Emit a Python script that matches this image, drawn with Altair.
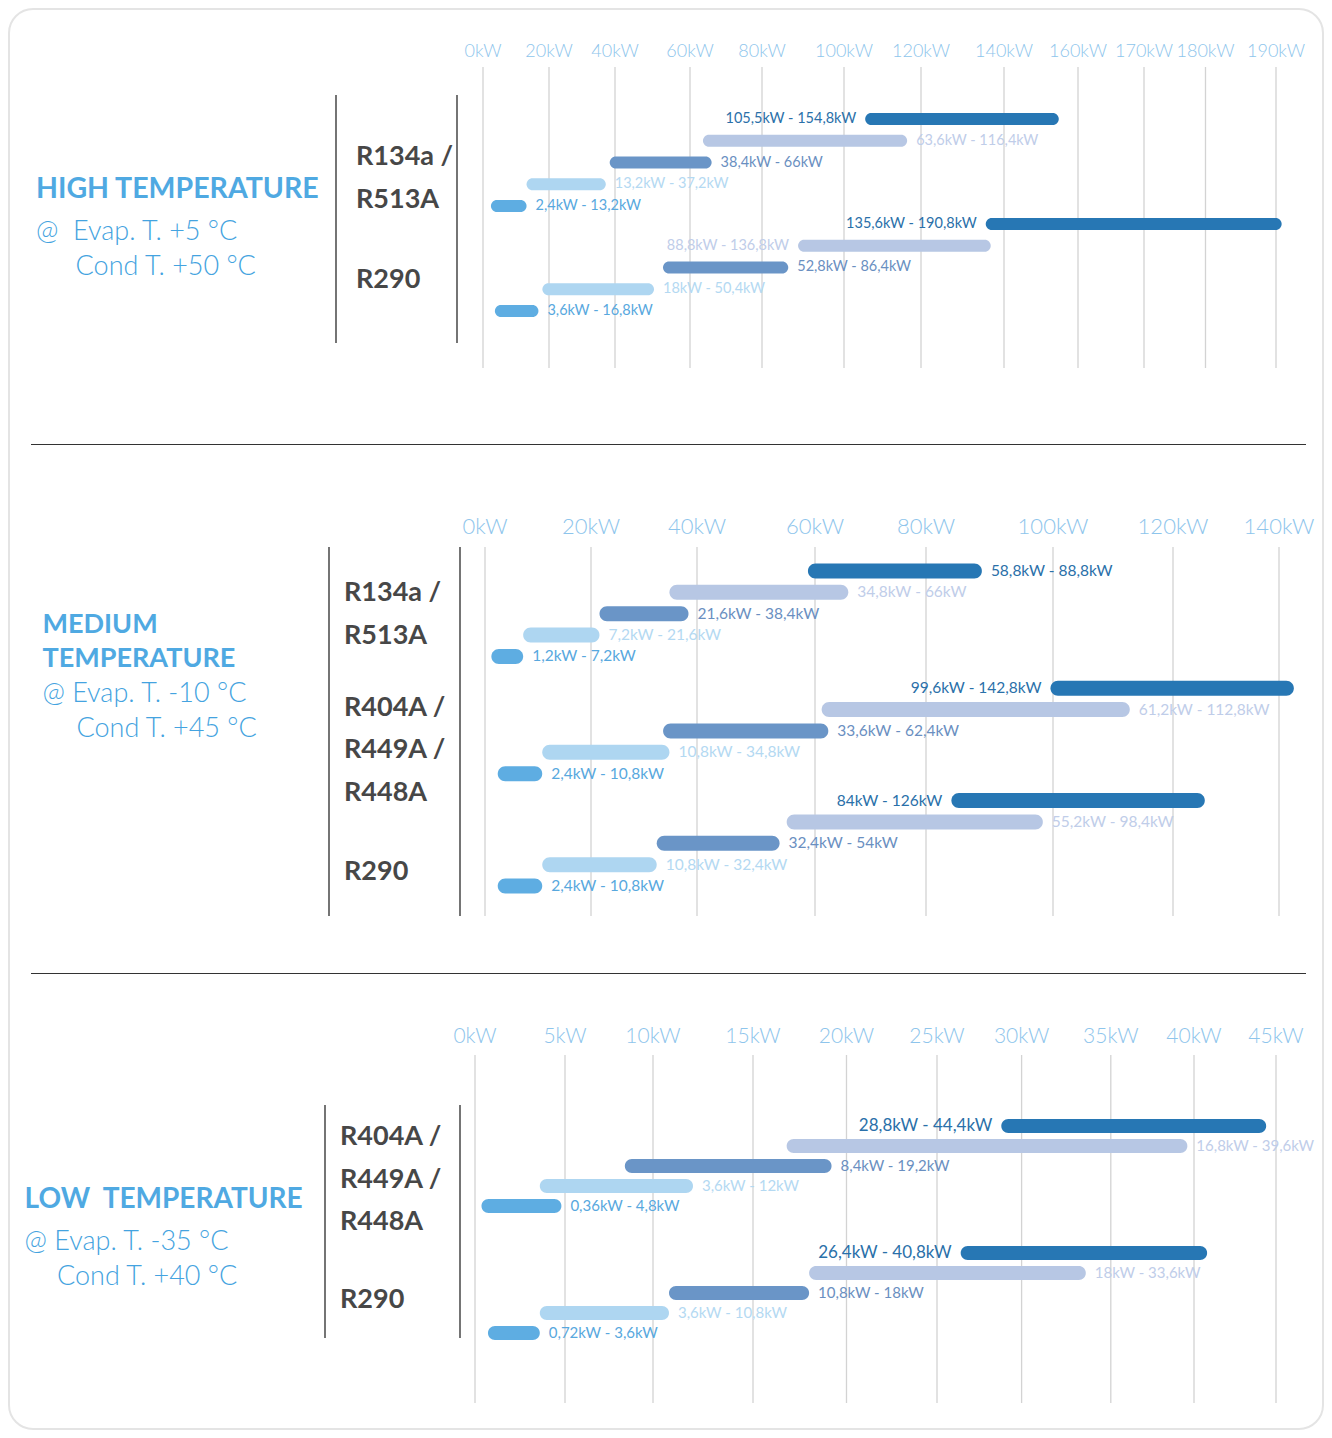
import altair as alt
import pandas as pd

FONT = "Lato"
W = 1316
H1, H2, H3 = 436, 529, 457

TITLE_C = "#4fa9e2"
SUB_C = "#44a3e0"
REFR_C = "#474747"
TICK_C = "#8ec5ec"
GRID_C = "#d3d3d3"

LEVELS = ["1", "2", "3", "4", "5"]
BAR_COLORS = ["#2777b4", "#b7c7e4", "#6a95c7", "#aed6f1", "#5eade2"]
LBL_COLORS = ["#2a70a9", "#c0cde9", "#6a8fc1", "#b4d9f2", "#58a8de"]

# ---------------- data ----------------
hi_start = [105.5, 63.6, 38.4, 13.2, 2.4, 135.6, 88.8, 52.8, 18, 3.6]
hi_end = [154.8, 116.4, 66, 37.2, 13.2, 190.8, 136.8, 86.4, 50.4, 16.8]
hi_ticks = [0, 20, 40, 60, 80, 100, 120, 140, 160, 170, 180, 190]
hi_sides = ["L", "R", "R", "R", "R", "L", "L", "R", "R", "R"]

med_start = [58.8, 34.8, 21.6, 7.2, 1.2, 99.6, 61.2, 33.6, 10.8, 2.4, 84, 55.2, 32.4, 10.8, 2.4]
med_end = [88.8, 66, 38.4, 21.6, 7.2, 142.8, 112.8, 62.4, 34.8, 10.8, 126, 98.4, 54, 32.4, 10.8]
med_ticks = [0, 20, 40, 60, 80, 100, 120, 140]
med_sides = ["R", "R", "R", "R", "R", "L", "R", "R", "R", "R", "L", "R", "R", "R", "R"]

low_start = [28.8, 16.8, 8.4, 3.6, 0.36, 26.4, 18, 10.8, 3.6, 0.72]
low_end = [44.4, 39.6, 19.2, 12, 4.8, 40.8, 33.6, 18, 10.8, 3.6]
low_ticks = [0, 5, 10, 15, 20, 25, 30, 35, 40, 45]
low_sides = ["L", "R", "R", "R", "R", "L", "R", "R", "R", "R"]

NB = "\u00a0"


def fmt(v):
    return f"{v:g}".replace(".", ",") + "kW"


dummy = pd.DataFrame({"a": [0]})


def text_layer(t, x, y, size, weight="normal", color=REFR_C):
    return alt.Chart(dummy).mark_text(
        font=FONT, fontSize=size, fontWeight=weight, color=color,
        align="left", baseline="alphabetic"
    ).encode(x=alt.value(x), y=alt.value(y), text=alt.value(t))


def vrule(x, y0, y1):
    return alt.Chart(dummy).mark_rule(color="#3a3a3a", strokeWidth=1.4).encode(
        x=alt.value(x), y=alt.value(y0), y2=alt.value(y1))


def panel(start, end, sides, ticks, xrange, offsets, yrange, bar_size,
          lbl_size, lbl_dark_size, tick_size, tick_y, grid_y, height, extra):
    n = len(start)
    df = pd.DataFrame({
        "idx": list(range(n)),
        "group": [i // 5 for i in range(n)],
        "level": [LEVELS[i % 5] for i in range(n)],
        "start": start,
        "end": end,
        "label": [f"{fmt(a)} - {fmt(b)}" for a, b in zip(start, end)],
        "side": sides,
    })
    df["slot"] = df["idx"] + df["group"].map(lambda g: offsets[g])
    tdf = pd.DataFrame({"value": ticks, "label": [f"{t}kW" for t in ticks]})

    xs = alt.Scale(domain=ticks, range=xrange, zero=False, nice=False, padding=0)
    ys = alt.Scale(domain=[0, float(df["slot"].max())], range=yrange,
                   zero=False, nice=False, padding=0)

    grid = alt.Chart(tdf).mark_rule(color=GRID_C, strokeWidth=1.3).encode(
        x=alt.X("value:Q", scale=xs, axis=None),
        y=alt.value(grid_y[0]), y2=alt.value(grid_y[1]))
    tlabels = alt.Chart(tdf).mark_text(
        font=FONT, fontSize=tick_size, fontWeight=300, color=TICK_C,
        baseline="middle", align="center"
    ).encode(x=alt.X("value:Q", scale=xs, axis=None), y=alt.value(tick_y), text="label:N")

    bars = alt.Chart(df).mark_bar(size=bar_size, cornerRadius=bar_size / 2).encode(
        x=alt.X("start:Q", scale=xs, axis=None),
        x2="end:Q",
        y=alt.Y("slot:Q", scale=ys, axis=None),
        color=alt.Color("level:N", scale=alt.Scale(domain=LEVELS, range=BAR_COLORS), legend=None),
    )
    lsize = alt.condition("datum.level == '1'", alt.value(lbl_dark_size), alt.value(lbl_size))
    lab_r = alt.Chart(df).transform_filter("datum.side == 'R'").mark_text(
        font=FONT, align="left", baseline="middle", dx=9
    ).encode(
        x=alt.X("end:Q", scale=xs, axis=None),
        y=alt.Y("slot:Q", scale=ys, axis=None),
        text="label:N",
        size=lsize,
        color=alt.Color("level:N", scale=alt.Scale(domain=LEVELS, range=LBL_COLORS), legend=None),
    )
    lab_l = alt.Chart(df).transform_filter("datum.side == 'L'").mark_text(
        font=FONT, align="right", baseline="middle", dx=-9
    ).encode(
        x=alt.X("start:Q", scale=xs, axis=None),
        y=alt.Y("slot:Q", scale=ys, axis=None),
        text="label:N",
        size=lsize,
        color=alt.Color("level:N", scale=alt.Scale(domain=LEVELS, range=LBL_COLORS), legend=None),
    )
    layers = [grid, tlabels, bars, lab_r, lab_l] + extra
    return alt.layer(*layers).resolve_scale(color="independent").properties(width=W, height=height)


border = alt.Chart(dummy).mark_rect(
    fill="white", fillOpacity=0, stroke="#e4e4e4", strokeWidth=2, cornerRadius=24
).encode(x=alt.value(1), x2=alt.value(W - 1), y=alt.value(1), y2=alt.value(H1 + H2 + H3 - 1))

p1_extra = [
    border,
    text_layer("HIGH TEMPERATURE", 28, 190, 28.5, "bold", TITLE_C),
    text_layer("@" + NB + NB + "Evap. T. +5 °C", 28, 232, 27, 300, SUB_C),
    text_layer("Cond T. +50 °C", 67.6, 267, 27, 300, SUB_C),
    text_layer("R134a /", 348, 157, 27, "bold"),
    text_layer("R513A", 348, 200, 27, "bold"),
    text_layer("R290", 348, 280, 27, "bold"),
    vrule(328, 87, 335),
    vrule(449, 87, 335),
]
p1 = panel(hi_start, hi_end, hi_sides, hi_ticks,
           [475, 541, 607, 682, 754, 836, 913, 996, 1070, 1136, 1197.5, 1268],
           [0, -0.18], [111, 303], 12, 14.5, 14.5, 18, 44, (59, 360), H1, p1_extra)

sep = lambda: alt.Chart(dummy).mark_rule(color="#333333", strokeWidth=1).encode(
    x=alt.value(23), x2=alt.value(1298), y=alt.value(0.5))

p2_extra = [
    sep(),
    text_layer("MEDIUM", 34.5, 188.7, 27, "bold", TITLE_C),
    text_layer("TEMPERATURE", 34.5, 222.7, 27, "bold", TITLE_C),
    text_layer("@ Evap. T. -10 °C", 34.5, 257.7, 27, 300, SUB_C),
    text_layer("Cond T. +45 °C", 68.5, 292.7, 27, 300, SUB_C),
    text_layer("R134a /", 336, 156.7, 27, "bold"),
    text_layer("R513A", 336, 200, 27, "bold"),
    text_layer("R404A /", 336, 272, 27, "bold"),
    text_layer("R449A /", 336, 313.7, 27, "bold"),
    text_layer("R448A", 336, 356.7, 27, "bold"),
    text_layer("R290", 336, 436, 27, "bold"),
    vrule(321, 103, 472),
    vrule(452, 103, 472),
]
p2 = panel(med_start, med_end, med_sides, med_ticks,
           [477, 583, 689, 807, 918, 1045, 1165, 1271],
           [0, 0.49, 0.75], [127, 442], 15, 15.5, 15.5, 22, 83, (103, 472), H2, p2_extra)

p3_extra = [
    sep(),
    text_layer("LOW" + NB + NB + "TEMPERATURE", 16.6, 235, 28, "bold", TITLE_C),
    text_layer("@ Evap. T. -35 °C", 16.6, 277, 27, 300, SUB_C),
    text_layer("Cond T. +40 °C", 49, 312, 27, 300, SUB_C),
    text_layer("R404A /", 332, 172, 27, "bold"),
    text_layer("R449A /", 332, 214.7, 27, "bold"),
    text_layer("R448A", 332, 257, 27, "bold"),
    text_layer("R290", 332, 335, 27, "bold"),
    vrule(317, 132, 365),
    vrule(452, 132, 365),
]
p3 = panel(low_start, low_end, low_sides, low_ticks,
           [467, 557, 645, 745, 838.5, 929, 1013.6, 1102.8, 1186, 1268],
           [0, 1.35], [153, 360], 14, 15, 17, 21, 64, (82, 430), H3, p3_extra)

chart = alt.vconcat(p1, p2, p3, spacing=0, bounds="flush").properties(
    padding=0, background="white"
).configure_view(stroke=None)

chart.save("out.html", embed_options={"renderer": "svg", "actions": False})
